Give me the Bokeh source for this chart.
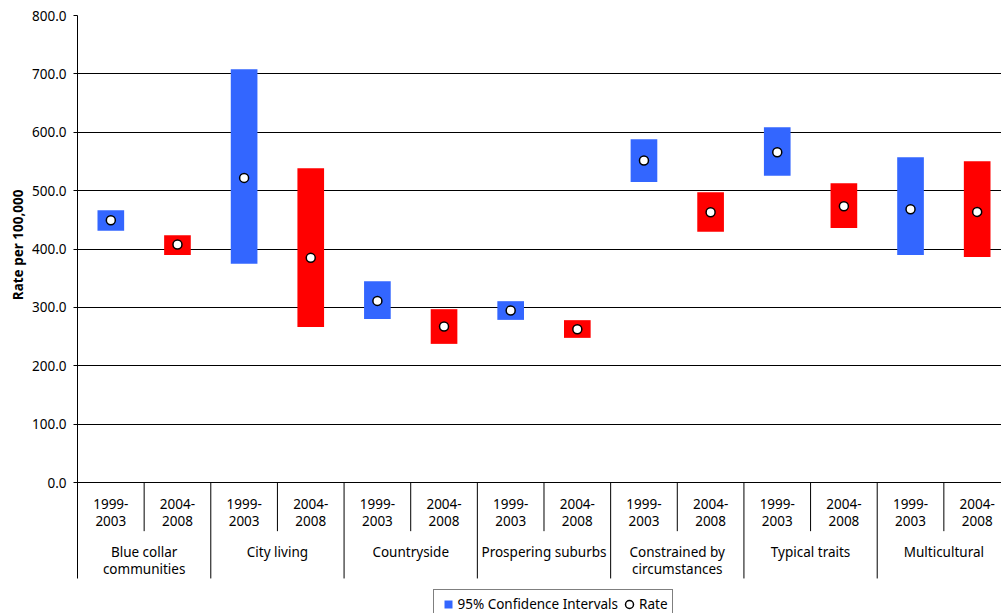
from bokeh.plotting import figure
from bokeh.models import (ColumnDataSource, Range1d, FixedTicker, NumeralTickFormatter,
                          Legend, LegendItem, Title)
from bokeh.core.properties import value
from bokeh.embed import file_html
from bokeh.resources import INLINE

# Area classification groups and the two reporting periods
groups = ["Blue collar\ncommunities", "City living", "Countryside", "Prospering suburbs",
          "Constrained by\ncircumstances", "Typical traits", "Multicultural"]
periods = ["1999-\n2003", "2004-\n2008"]

# Rate per 100,000 with 95% confidence limits, one value per group/period
rate = [449.5, 407.9, 521.9, 385.0, 311.3, 267.5, 294.8, 262.8, 551.7, 463.2, 565.9, 473.5, 468.3, 463.7]
lower = [431.2, 390.1, 374.7, 266.8, 280.5, 237.7, 278.8, 248.0, 515.1, 429.5, 525.4, 436.3, 390.1, 386.6]
upper = [466.6, 423.8, 708.0, 538.5, 345.0, 297.1, 310.8, 278.3, 588.2, 497.4, 608.7, 512.8, 557.4, 550.5]

y_ticks = [0, 100, 200, 300, 400, 500, 600, 700, 800]
period_colors = ["#3366FF", "#FF0000"]

FONT = "Noto Sans"
FONT_SIZE = "13.5px"

n_per = len(periods)
n_slots = len(groups) * n_per
slot_x = [i + 0.5 for i in range(n_slots)]
slot_color = [period_colors[i % n_per] for i in range(n_slots)]

src = ColumnDataSource(dict(x=slot_x, rate=rate, lower=lower, upper=upper, color=slot_color))

p = figure(width=1001, height=613, output_backend="svg", toolbar_location=None,
           x_range=Range1d(0, 13.865), y_range=Range1d(-224, 800),
           x_axis_location=None, min_border_left=77, min_border_right=0,
           min_border_top=15, min_border_bottom=0)
p.outline_line_color = None
p.background_fill_color = "white"
p.border_fill_color = "white"
p.xgrid.visible = False

# value axis
ax = p.yaxis[0]
ax.ticker = FixedTicker(ticks=y_ticks)
ax.formatter = NumeralTickFormatter(format="0.0")
ax.bounds = (-164, 800)
ax.axis_line_color = "black"
ax.axis_line_width = 1
ax.major_tick_line_color = "black"
ax.major_tick_in = 0
ax.major_tick_out = 4
ax.minor_tick_line_color = None
ax.major_label_standoff = 7
ax.major_label_text_font = FONT
ax.major_label_text_font_size = FONT_SIZE
ax.major_label_text_color = "black"

p.add_layout(Title(text="Rate per 100,000", align="right", offset=174,
                   text_font=FONT, text_font_size="13.5px", text_font_style="bold",
                   text_color="black", standoff=4), "left")

p.ygrid.grid_line_color = "black"
p.ygrid.grid_line_width = 1

# confidence interval bars and rate markers
bars = p.vbar(x="x", bottom="lower", top="upper", width=0.4, source=src,
              fill_color="color", line_color=None)
pts = p.scatter(x="x", y="rate", source=src, marker="circle", size=9,
                fill_color="white", line_color="black", line_width=1.5)
# legend key for the interval bars (square swatch)
ci_key = p.scatter(x="x", y="rate", source=src, marker="square", size=0,
                   fill_color=period_colors[0], line_color=None)

# category table below the zero line
inner_x = [g * n_per + 1 for g in range(len(groups))]
group_x = [(g + 1) * n_per for g in range(len(groups))]
p.segment(x0=inner_x, y0=[0] * len(inner_x), x1=inner_x, y1=[-83] * len(inner_x),
          line_color="black", line_width=1)
p.segment(x0=group_x, y0=[0] * len(group_x), x1=group_x, y1=[-164] * len(group_x),
          line_color="black", line_width=1)

p.text(x=slot_x, y=[-51] * n_slots, text=periods * len(groups),
       text_font=value(FONT), text_font_size=value(FONT_SIZE), text_color="black",
       text_align="center", text_baseline="middle", text_line_height=0.94)
p.text(x=[g * n_per + n_per / 2 for g in range(len(groups))], y=[-104] * len(groups),
       text=groups, text_font=value(FONT), text_font_size=value(FONT_SIZE),
       text_color="black", text_align="center", text_baseline="top", text_line_height=0.94)

legend = Legend(items=[LegendItem(label="95% Confidence Intervals", renderers=[ci_key]),
                       LegendItem(label="Rate", renderers=[pts])],
                orientation="horizontal", location=(355.5, -5.5),
                glyph_width=20, glyph_height=20, label_standoff=0, spacing=1, padding=4,
                border_line_color="black", border_line_width=1,
                background_fill_color="white", background_fill_alpha=1,
                label_text_font=FONT, label_text_font_size=FONT_SIZE, label_text_color="black")
p.add_layout(legend)

open("out.html", "w").write(file_html(p, INLINE))
